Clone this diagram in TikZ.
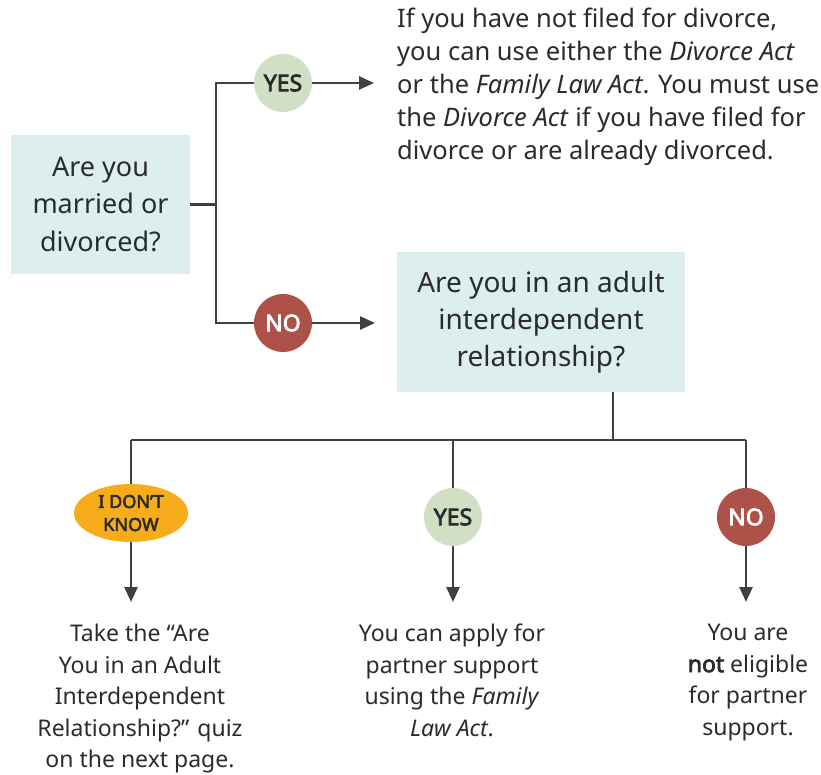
\documentclass[tikz,border=0pt]{standalone}
\usepackage{fontspec}
\setmainfont{Noto Sans}[BoldFont={Noto Sans}, BoldFeatures={FakeBold=3.2}]
\usetikzlibrary{shapes.geometric,arrows.meta}
\definecolor{boxfill}{HTML}{DCEFEE}
\definecolor{yesfill}{HTML}{D1E0C5}
\definecolor{nofill}{HTML}{AE5149}
\definecolor{idkfill}{HTML}{F6AC1B}
\definecolor{ink}{HTML}{2B2B2B}
\definecolor{linec}{HTML}{404040}
\tikzset{
  qbox/.style={fill=boxfill, inner sep=0pt, align=center, text=ink, font=\fontsize{27}{37.5}\selectfont},
  yesc/.style={circle, fill=yesfill, minimum size=58pt, inner sep=0pt, text=ink, font=\fontsize{23}{24}\selectfont\bfseries},
  noc/.style={circle, fill=nofill, minimum size=58pt, inner sep=0pt, text=white, font=\fontsize{23}{24}\selectfont\bfseries},
  idk/.style={ellipse, fill=idkfill, minimum width=114pt, minimum height=58pt, inner sep=0pt, align=center, text=ink, font=\fontsize{18}{23}\selectfont\bfseries},
  conn/.style={draw=linec, line width=2.6pt},
  arr/.style={conn, -{Triangle[length=15pt,width=13pt]}},
  outtxt/.style={align=center, text=ink, inner sep=0pt, font=\fontsize{23}{31.5}\selectfont},
}
\begin{document}
\begin{tikzpicture}[x=1pt,y=-1pt]
\useasboundingbox (0,0) rectangle (821,775);
% left question box
\node[qbox, minimum width=179pt, minimum height=139pt] (q1) at (100.5,204.5) {Are you\\married or\\divorced?};
\coordinate (j1) at (216,204.5);
\node[yesc] (y1) at (283,83) {YES};
\node[noc] (n1) at (283,323) {NO};
\coordinate (t1) at (374,83);
\coordinate (t2) at (375,323);
\draw[conn] (q1.east) -- (j1);
\draw[conn] (y1.west) -| (j1) |- (n1.west);
\draw[arr] (y1.east) -- (t1);
\draw[arr] (n1.east) -- (t2);
% top answer text
\node[anchor=north west, align=left, text=ink, inner sep=0pt, font=\fontsize{25.5}{33}\selectfont] (a1) at (397,8)
{If you have not filed for divorce,\\you can use either the \textit{Divorce Act}\\or the \textit{Family Law Act}. You must use\\the \textit{Divorce Act} if you have filed for\\divorce or are already divorced.};
% second question box
\node[qbox, minimum width=288pt, minimum height=139pt, font=\fontsize{28}{37}\selectfont] (q2) at (541,322) {Are you in an adult\\interdependent\\relationship?};
\coordinate (j2) at (613,440);
\coordinate (jl) at (131,440);
\coordinate (jm) at (453,440);
\coordinate (jr) at (746,440);
\draw[conn] (q2.south -| j2) -- (j2);
\draw[conn] (jl) -- (jr);
% branches
\node[idk] (k3) at (131,513) {I DON’T\\KNOW};
\node[yesc] (y3) at (453,517) {YES};
\node[noc] (n3) at (746,517) {NO};
\coordinate (b1) at (131,602);
\coordinate (b2) at (453,602);
\coordinate (b3) at (746,602);
\draw[conn] (jl) -- (k3.north);
\draw[conn] (jm) -- (y3.north);
\draw[conn] (jr) -- (n3.north);
\draw[arr] (k3.south) -- (b1);
\draw[arr] (y3.south) -- (b2);
\draw[arr] (n3.south) -- (b3);
% bottom texts
\node[outtxt, anchor=north] (o1) at (140,624) {Take the “Are\\You in an Adult\\Interdependent\\Relationship?” quiz\\on the next page.};
\node[outtxt, anchor=north] (o2) at (452,624) {You can apply for\\partner support\\using the \textit{Family}\\\textit{Law Act}.};
\node[outtxt, anchor=north] (o3) at (748,624) {You are\\\textbf{not} eligible\\for partner\\support.};
\end{tikzpicture}
\end{document}
